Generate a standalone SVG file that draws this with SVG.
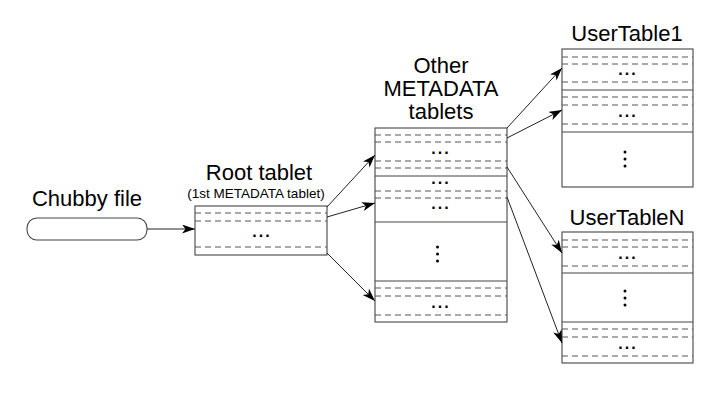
<svg xmlns="http://www.w3.org/2000/svg" width="711" height="409" viewBox="0 0 711 409">
<defs>
<style>
.t{font-family:"Liberation Sans",Arial,sans-serif;fill:#000}
.title{font-size:22px}
.sub{font-size:13.5px}
.dots{font-family:"Liberation Sans",Arial,sans-serif;font-size:16px;font-weight:bold;letter-spacing:2px;text-anchor:middle;fill:#000}
.box{fill:#fff;stroke:#444;stroke-width:1.1}
.sep{stroke:#444;stroke-width:1.1}
.dash{stroke:#555;stroke-width:1;stroke-dasharray:6,4}
.conn{stroke:#222;stroke-width:1;fill:none;marker-end:url(#ah)}
.vd{fill:#000}
</style>
<marker id="ah" markerUnits="userSpaceOnUse" markerWidth="14" markerHeight="10" refX="13" refY="4.5" orient="auto">
<path d="M0,0 L13,4.5 L0,9 L3.5,4.5 z" fill="#000"/>
</marker>
</defs>
<rect width="711" height="409" fill="#fff"/>

<g id="chubby">
<text class="t title" x="87" y="206" text-anchor="middle">Chubby file</text>
<rect x="27" y="218" width="120" height="22" rx="10" ry="10" class="box"/>
</g>

<g id="root">
<text class="t title" x="259" y="180" text-anchor="middle">Root tablet</text>
<text class="t sub" x="256" y="198" text-anchor="middle">(1st METADATA tablet)</text>
<rect x="195" y="206" width="132" height="49" class="box"/>
<line x1="195" y1="213" x2="327" y2="213" class="dash"/>
<line x1="195" y1="221" x2="327" y2="221" class="dash"/>
<line x1="195" y1="247" x2="327" y2="247" class="dash"/>
<text class="dots" x="262" y="237">...</text>
</g>

<g id="metadata">
<text class="t title" text-anchor="middle"><tspan x="441" y="73">Other</tspan><tspan x="441" y="96">METADATA</tspan><tspan x="441" y="119">tablets</tspan></text>
<rect x="375" y="128" width="132" height="194" class="box"/>
<line x1="375" y1="135" x2="507" y2="135" class="dash"/>
<line x1="375" y1="142" x2="507" y2="142" class="dash"/>
<line x1="375" y1="161" x2="507" y2="161" class="dash"/>
<line x1="375" y1="168" x2="507" y2="168" class="dash"/>
<line x1="375" y1="176" x2="507" y2="176" class="sep"/>
<line x1="375" y1="191" x2="507" y2="191" class="dash"/>
<line x1="375" y1="198" x2="507" y2="198" class="dash"/>
<line x1="375" y1="222" x2="507" y2="222" class="sep"/>
<line x1="375" y1="281" x2="507" y2="281" class="sep"/>
<line x1="375" y1="288" x2="507" y2="288" class="dash"/>
<line x1="375" y1="296" x2="507" y2="296" class="dash"/>
<line x1="375" y1="315" x2="507" y2="315" class="dash"/>
<text class="dots" x="441" y="154">...</text>
<text class="dots" x="441" y="184">...</text>
<text class="dots" x="441" y="209">...</text>
<circle class="vd" cx="437.5" cy="247" r="1.5"/>
<circle class="vd" cx="437.5" cy="254" r="1.5"/>
<circle class="vd" cx="437.5" cy="261" r="1.5"/>
<text class="dots" x="441" y="308">...</text>
</g>

<g id="usertable1">
<text class="t title" x="627" y="41" text-anchor="middle">UserTable1</text>
<rect x="562" y="49" width="131" height="138" class="box"/>
<line x1="562" y1="57" x2="693" y2="57" class="dash"/>
<line x1="562" y1="64" x2="693" y2="64" class="dash"/>
<line x1="562" y1="82" x2="693" y2="82" class="dash"/>
<line x1="562" y1="90" x2="693" y2="90" class="sep"/>
<line x1="562" y1="97" x2="693" y2="97" class="dash"/>
<line x1="562" y1="105" x2="693" y2="105" class="dash"/>
<line x1="562" y1="124" x2="693" y2="124" class="dash"/>
<line x1="562" y1="132" x2="693" y2="132" class="sep"/>
<text class="dots" x="628" y="75">...</text>
<text class="dots" x="628" y="117">...</text>
<circle class="vd" cx="625" cy="152" r="1.5"/>
<circle class="vd" cx="625" cy="159" r="1.5"/>
<circle class="vd" cx="625" cy="166" r="1.5"/>
</g>

<g id="usertableN">
<text class="t title" x="627" y="225" text-anchor="middle">UserTableN</text>
<rect x="562" y="232" width="131" height="131" class="box"/>
<line x1="562" y1="240" x2="693" y2="240" class="dash"/>
<line x1="562" y1="247" x2="693" y2="247" class="dash"/>
<line x1="562" y1="266" x2="693" y2="266" class="dash"/>
<line x1="562" y1="273" x2="693" y2="273" class="sep"/>
<line x1="562" y1="322" x2="693" y2="322" class="sep"/>
<line x1="562" y1="329" x2="693" y2="329" class="dash"/>
<line x1="562" y1="337" x2="693" y2="337" class="dash"/>
<line x1="562" y1="356" x2="693" y2="356" class="dash"/>
<text class="dots" x="628" y="259">...</text>
<circle class="vd" cx="625" cy="291" r="1.5"/>
<circle class="vd" cx="625" cy="298" r="1.5"/>
<circle class="vd" cx="625" cy="305" r="1.5"/>
<text class="dots" x="628" y="349">...</text>
</g>

<g id="connectors">
<line x1="147" y1="229" x2="195" y2="229" class="conn"/>
<line x1="327" y1="207" x2="375" y2="155" class="conn"/>
<line x1="327" y1="217" x2="375" y2="203" class="conn"/>
<line x1="327" y1="253" x2="375" y2="301" class="conn"/>
<line x1="507" y1="128" x2="562" y2="68" class="conn"/>
<line x1="507" y1="138" x2="562" y2="110" class="conn"/>
<line x1="507" y1="167" x2="562" y2="253" class="conn"/>
<line x1="507" y1="197" x2="562" y2="343" class="conn"/>
</g>
</svg>
